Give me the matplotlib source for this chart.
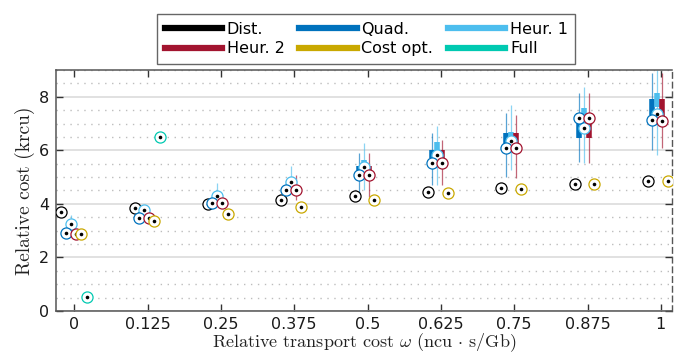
import numpy as np
import matplotlib
matplotlib.use("Agg")
import matplotlib.pyplot as plt
from matplotlib.lines import Line2D

# ---------------- data ----------------
omega = [0, 0.125, 0.25, 0.375, 0.5, 0.625, 0.75, 0.875, 1]
tick_labels = ["0", "0.125", "0.25", "0.375", "0.5", "0.625", "0.75", "0.875", "1"]

series_names = ["Dist.", "Quad.", "Heur. 1", "Heur. 2", "Cost opt.", "Full"]

dist_med = [3.69, 3.84, 3.99, 4.15, 4.29, 4.44, 4.60, 4.75, 4.87]
quad_med = [2.90, 3.49, 4.03, 4.52, 5.08, 5.54, 6.08, 7.19, 7.13]
heur1_med = [3.24, 3.79, 4.31, 4.81, 5.36, 5.83, 6.33, 6.83, 7.34]
heur2_med = [2.88, 3.49, 4.03, 4.52, 5.08, 5.54, 6.08, 7.19, 7.08]
cost_med = [2.88, 3.35, 3.64, 3.90, 4.15, 4.39, 4.57, 4.75, 4.87]
full_med = [0.51, 6.50, np.nan, np.nan, np.nan, np.nan, np.nan, np.nan, np.nan]

# distribution summaries (lower whisker, q1, q3, upper whisker)
quad_lo = [2.90, 3.49, 4.03, 4.45, 4.40, 4.70, 5.00, 5.57, 6.00]
quad_q1 = [2.90, 3.49, 4.03, 4.52, 5.20, 5.70, 6.14, 6.47, 7.33]
quad_q3 = [2.90, 3.49, 4.03, 4.62, 5.40, 6.00, 6.64, 7.40, 7.93]
quad_hi = [2.90, 3.49, 4.10, 4.90, 5.90, 6.65, 7.40, 8.15, 8.90]

heur1_lo = [3.24, 3.79, 4.31, 4.65, 4.50, 4.70, 5.27, 5.53, 5.83]
heur1_q1 = [3.24, 3.79, 4.31, 4.75, 5.40, 6.00, 6.33, 6.84, 7.60]
heur1_q3 = [3.30, 3.79, 4.40, 4.90, 5.65, 6.30, 6.67, 7.59, 8.15]
heur1_hi = [3.60, 3.79, 4.78, 5.40, 6.28, 6.90, 7.70, 8.38, 9.00]

heur2_lo = [2.88, 3.49, 4.03, 4.15, 4.27, 4.70, 4.97, 5.53, 6.10]
heur2_q1 = [2.88, 3.49, 4.03, 4.52, 5.20, 5.70, 6.09, 6.47, 7.25]
heur2_q3 = [2.88, 3.49, 4.03, 4.65, 5.40, 6.00, 6.65, 7.26, 7.90]
heur2_hi = [2.88, 3.49, 4.20, 5.08, 5.90, 6.40, 7.33, 8.15, 8.90]

# ---------------- style ----------------
colors = {"Dist.": "#000000", "Quad.": "#0072BD", "Heur. 1": "#4DBEEE",
          "Heur. 2": "#A2142F", "Cost opt.": "#C9A800", "Full": "#00C9B1"}
offsets = {"Dist.": -0.0221, "Quad.": -0.0145, "Heur. 1": -0.0060,
           "Heur. 2": 0.0026, "Cost opt.": 0.0119, "Full": 0.0213}

plt.rcParams["mathtext.fontset"] = "cm"

fig = plt.figure(figsize=(6.77, 3.58), dpi=100)
ax = fig.add_axes([0.0827, 0.1313, 0.9099, 0.6732])

ax.set_xlim(-0.031, 1.019)
ax.set_ylim(0, 9)

# grid
ax.set_yticks([0, 2, 4, 6, 8])
ax.set_yticks(np.arange(0, 9.01, 0.5), minor=True)
ax.yaxis.grid(True, which="major", color="#dcdcdc", lw=1.2, ls="-", zorder=0)
ax.yaxis.grid(True, which="minor", color="#bdbdbd", lw=1.0, ls=(0, (1, 4)), zorder=0)
ax.set_axisbelow(True)

om = np.array(omega)
box_data = {
    "Quad.": (quad_lo, quad_q1, quad_q3, quad_hi),
    "Heur. 1": (heur1_lo, heur1_q1, heur1_q3, heur1_hi),
    "Heur. 2": (heur2_lo, heur2_q1, heur2_q3, heur2_hi),
}
for name, (lo, q1, q3, hi) in box_data.items():
    x = om + offsets[name]
    ax.vlines(x, lo, hi, colors=colors[name], lw=0.9, alpha=0.65, zorder=2)
    ax.vlines(x, q1, q3, colors=colors[name], lw=4.0, zorder=2.5)

medians = {"Dist.": dist_med, "Heur. 1": heur1_med, "Quad.": quad_med,
           "Heur. 2": heur2_med, "Cost opt.": cost_med, "Full": full_med}
z = 3
for name in ["Dist.", "Heur. 1", "Quad.", "Heur. 2", "Cost opt.", "Full"]:
    x = om + offsets[name]
    y = np.array(medians[name], dtype=float)
    ax.plot(x, y, ls="none", marker="o", ms=8, mfc="white",
            mec=colors[name], mew=0.9, zorder=z)
    ax.plot(x, y, ls="none", marker="o", ms=2.6, mfc="black",
            mec="black", mew=0, zorder=z + 0.1)
    z += 0.2

ax.set_xticks(omega)
ax.set_xticklabels(tick_labels)
ax.tick_params(axis="both", which="major", direction="in", length=5,
               width=1, color="#333333", labelsize=11.5, top=True, right=True,
               labelcolor="#1a1a1a")
ax.tick_params(axis="both", which="minor", length=0)
ax.tick_params(axis="x", pad=4)
ax.tick_params(axis="y", pad=5)

for s in ["left", "bottom", "top"]:
    ax.spines[s].set_color("#555555")
    ax.spines[s].set_linewidth(1.1)
ax.spines["right"].set_color("#555555")
ax.spines["right"].set_linestyle((0, (4, 3)))
ax.spines["right"].set_linewidth(1.0)

ax.set_xlabel(r"Relative transport cost $\omega$ (ncu $\cdot$ s/Gb)",
              family="cmr10", fontsize=13, labelpad=0, color="#222222")
ax.set_ylabel("Relative cost (krcu)", family="cmr10", fontsize=14,
              labelpad=3, color="#222222")

# legend
order = ["Dist.", "Heur. 2", "Quad.", "Cost opt.", "Heur. 1", "Full"]
handles = [Line2D([], [], color=colors[n], lw=4.5) for n in order]
leg = fig.legend(handles, order, loc="upper center", ncol=3,
                 bbox_to_anchor=(0.541, 0.982), fontsize=11.5,
                 handlelength=3.6, handletextpad=0.3, columnspacing=0.9,
                 labelspacing=0.3, borderpad=0.45, fancybox=False,
                 framealpha=1, edgecolor="#666666")
leg.get_frame().set_linewidth(1.0)

fig.savefig("out.png", dpi=100)
